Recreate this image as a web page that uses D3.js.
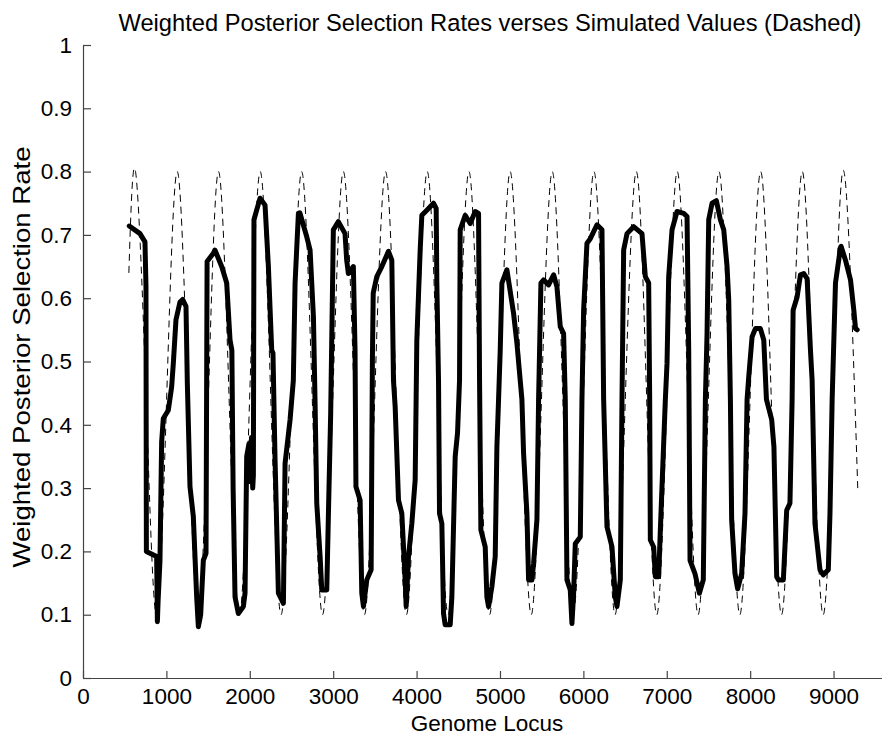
<!DOCTYPE html>
<html>
<head>
<meta charset="utf-8">
<script src="https://cdn.jsdelivr.net/npm/d3@7"></script>
<style>
  body { margin: 0; background: #fff; }
  text { font-family: "Liberation Sans", Arial, sans-serif; fill: #000; }
</style>
</head>
<body>
<div id="chart"></div>
<script>
var svgWidth = 882;
var svgHeight = 742;

var margin = { top: 45, left: 83 };
var height = 633;

// x ticks
var xTicks = [0, 1000, 2000, 3000, 4000, 5000, 6000, 7000, 8000, 9000];
var yTicks = [0, 0.1, 0.2, 0.3, 0.4, 0.5, 0.6, 0.7, 0.8, 0.9, 1];

// simulated values (dashed)
var simLocus = [550, 630, 755, 880, 1005, 1130, 1255, 1380, 1505, 1625, 1750, 1875, 2000,
  2125, 2250, 2375, 2500, 2622, 2747, 2872, 2997, 3122, 3250, 3375, 3500, 3628, 3753, 3878,
  4003, 4128, 4253, 4378, 4503, 4628, 4750, 4875, 5000, 5122, 5250, 5375, 5500, 5627, 5752,
  5877, 6002, 6127, 6255, 6380, 6505, 6635, 6757, 6880, 7003, 7126, 7251, 7376, 7501, 7626,
  7751, 7876, 8001, 8126, 8251, 8376, 8501, 8625, 8750, 8875, 9000, 9125, 9290];
var simRate = [0.64, 0.80, 0.45, 0.10, 0.45, 0.80, 0.45, 0.10, 0.45, 0.80, 0.45, 0.10, 0.45,
  0.80, 0.45, 0.10, 0.45, 0.80, 0.45, 0.10, 0.45, 0.80, 0.45, 0.10, 0.45, 0.80, 0.45, 0.10,
  0.45, 0.80, 0.45, 0.10, 0.45, 0.80, 0.45, 0.10, 0.45, 0.80, 0.45, 0.10, 0.45, 0.80, 0.45,
  0.10, 0.45, 0.80, 0.45, 0.10, 0.45, 0.80, 0.45, 0.10, 0.45, 0.80, 0.45, 0.10, 0.45, 0.80,
  0.45, 0.10, 0.45, 0.80, 0.45, 0.10, 0.45, 0.80, 0.45, 0.10, 0.45, 0.80, 0.30];

// weighted posterior selection rate (bold)
var postLocus = [555, 683, 743, 755, 760, 883, 887, 892, 900, 923, 943, 963, 1023, 1063, 1083,
  1115, 1163, 1195, 1235, 1251, 1283, 1323, 1363, 1383, 1411, 1443, 1475, 1488, 1563, 1583,
  1663, 1723, 1763, 1785, 1800, 1823, 1863, 1923, 1943, 1963, 1990, 2005, 2020, 2035, 2043,
  2050, 2123, 2183, 2223, 2263, 2278, 2303, 2343, 2403, 2423, 2483, 2522, 2543, 2583, 2600,
  2683, 2723, 2763, 2782, 2803, 2843, 2863, 2923, 2943, 2970, 3002, 3062, 3142, 3162, 3182,
  3242, 3262, 3273, 3323, 3343, 3363, 3403, 3455, 3470, 3480, 3523, 3583, 3663, 3703, 3723,
  3743, 3783, 3823, 3863, 3875, 3903, 3943, 3983, 4003, 4043, 4063, 4123, 4203, 4235, 4243,
  4263, 4275, 4303, 4323, 4343, 4403, 4423, 4463, 4491, 4515, 4523, 4583, 4643, 4703, 4743,
  4755, 4771, 4823, 4843, 4863, 4903, 4943, 4963, 4983, 5003, 5023, 5083, 5163, 5203, 5263,
  5283, 5323, 5343, 5383, 5403, 5443, 5463, 5491, 5523, 5583, 5643, 5683, 5723, 5763, 5783,
  5803, 5843, 5863, 5883, 5903, 5963, 5983, 6003, 6043, 6083, 6163, 6223, 6243, 6283, 6343,
  6383, 6403, 6443, 6463, 6483, 6523, 6603, 6703, 6743, 6783, 6795, 6803, 6843, 6863, 6903,
  6923, 6983, 7003, 7023, 7063, 7123, 7203, 7243, 7263, 7279, 7338, 7391, 7438, 7463, 7483,
  7503, 7543, 7595, 7643, 7683, 7723, 7743, 7763, 7778, 7818, 7850, 7898, 7938, 7963, 7983,
  8023, 8063, 8123, 8163, 8195, 8258, 8285, 8318, 8338, 8398, 8438, 8477, 8503, 8515, 8563,
  8603, 8643, 8683, 8723, 8743, 8777, 8837, 8877, 8937, 8957, 8983, 9023, 9083, 9090, 9143,
  9203, 9243, 9263, 9283];
var postRate = [0.714, 0.702, 0.689, 0.62, 0.20, 0.192, 0.15, 0.089, 0.12, 0.186, 0.373, 0.41,
  0.423, 0.46, 0.497, 0.566, 0.594, 0.598, 0.587, 0.466, 0.302, 0.255, 0.128, 0.081, 0.10,
  0.186, 0.197, 0.658, 0.671, 0.676, 0.65, 0.624, 0.534, 0.518, 0.30, 0.128, 0.102, 0.113,
  0.134, 0.35, 0.37, 0.31, 0.38, 0.30, 0.32, 0.724, 0.758, 0.747, 0.65, 0.518, 0.513, 0.344,
  0.134, 0.118, 0.339, 0.408, 0.47, 0.624, 0.734, 0.735, 0.697, 0.676, 0.571, 0.44, 0.276,
  0.192, 0.139, 0.139, 0.26, 0.418, 0.708, 0.721, 0.702, 0.660, 0.639, 0.65, 0.518, 0.302,
  0.281, 0.134, 0.113, 0.155, 0.171, 0.50, 0.608, 0.634, 0.65, 0.674, 0.66, 0.47, 0.429,
  0.281, 0.26, 0.155, 0.113, 0.192, 0.244, 0.313, 0.534, 0.676, 0.731, 0.739, 0.75, 0.742,
  0.624, 0.47, 0.26, 0.244, 0.102, 0.084, 0.084, 0.128, 0.35, 0.387, 0.47, 0.708, 0.731,
  0.718, 0.737, 0.734, 0.47, 0.234, 0.207, 0.128, 0.113, 0.144, 0.192, 0.365, 0.44, 0.518,
  0.624, 0.645, 0.576, 0.529, 0.44, 0.355, 0.26, 0.155, 0.155, 0.181, 0.25, 0.44, 0.624,
  0.629, 0.621, 0.637, 0.618, 0.555, 0.544, 0.44, 0.155, 0.139, 0.086, 0.134, 0.212, 0.223,
  0.44, 0.581, 0.687, 0.694, 0.716, 0.708, 0.44, 0.239, 0.207, 0.128, 0.113, 0.155, 0.44,
  0.676, 0.702, 0.713, 0.702, 0.634, 0.624, 0.44, 0.218, 0.207, 0.16, 0.16, 0.234, 0.44,
  0.497, 0.634, 0.708, 0.737, 0.734, 0.729, 0.518, 0.186, 0.165, 0.134, 0.155, 0.44, 0.544,
  0.724, 0.75, 0.754, 0.724, 0.708, 0.65, 0.597, 0.44, 0.25, 0.165, 0.141, 0.165, 0.26,
  0.44, 0.476, 0.539, 0.552, 0.552, 0.534, 0.44, 0.408, 0.365, 0.16, 0.155, 0.155, 0.265,
  0.276, 0.44, 0.581, 0.602, 0.637, 0.639, 0.631, 0.518, 0.47, 0.244, 0.171, 0.163, 0.171,
  0.26, 0.44, 0.624, 0.68, 0.682, 0.66, 0.629, 0.581, 0.552, 0.55];

var simData = simLocus.map(function(d, i) { return { x: d, y: simRate[i] }; });
var postData = postLocus.map(function(d, i) { return { x: d, y: postRate[i] }; });

var svg = d3.select("#chart")
  .append("svg")
  .attr("width", svgWidth)
  .attr("height", svgHeight);

var chartGroup = svg.append("g")
  .attr("transform", `translate(${margin.left}, ${margin.top})`);

var xLinearScale = d3.scaleLinear()
  .domain([0, 9600])
  .range([0, 800.6]);

var yLinearScale = d3.scaleLinear()
  .domain([0, 1])
  .range([height, 0]);

// matlab style: ticks point inward
var bottomAxis = d3.axisBottom(xLinearScale)
  .tickValues(xTicks)
  .tickSizeInner(-7)
  .tickSizeOuter(0)
  .tickPadding(10)
  .tickFormat(d3.format("d"));

var leftAxis = d3.axisLeft(yLinearScale)
  .tickValues(yTicks)
  .tickSizeInner(-8)
  .tickSizeOuter(0)
  .tickPadding(11)
  .tickFormat(function(d) { return d === 0 || d === 1 ? d : d3.format(".1f")(d); });

var xAxis = chartGroup.append("g")
  .attr("transform", `translate(0, ${height})`)
  .call(bottomAxis);

var yAxis = chartGroup.append("g")
  .call(leftAxis);

[xAxis, yAxis].forEach(function(ax) {
  ax.selectAll("path, line").attr("stroke", "#444").attr("stroke-width", 1.2);
  ax.selectAll("text")
    .style("font-size", "22.5px")
    .style("font-family", "'Liberation Sans', Arial, sans-serif")
    .attr("fill", "#000");
});

var line = d3.line()
  .x(d => xLinearScale(d.x))
  .y(d => yLinearScale(d.y));

chartGroup.append("path")
  .datum(simData)
  .attr("fill", "none")
  .attr("stroke", "#000")
  .attr("stroke-width", 1)
  .attr("stroke-dasharray", "7,5")
  .attr("d", line.curve(d3.curveNatural));

chartGroup.append("path")
  .datum(postData)
  .attr("fill", "none")
  .attr("stroke", "#000")
  .attr("stroke-width", 5)
  .attr("stroke-linejoin", "round")
  .attr("stroke-linecap", "round")
  .attr("d", d3.line()
    .x(d => xLinearScale(d.x))
    .y(d => yLinearScale(d.y)));

svg.append("text")
  .attr("x", 490)
  .attr("y", 31)
  .attr("text-anchor", "middle")
  .style("font-size", "23.7px")
  .text("Weighted Posterior Selection Rates verses Simulated Values (Dashed)");

svg.append("text")
  .attr("x", 487)
  .attr("y", 731)
  .attr("text-anchor", "middle")
  .style("font-size", "22.5px")
  .text("Genome Locus");

// the y label in the picture is stretched along its length
svg.append("text")
  .attr("transform", "translate(30, 357) rotate(-90) scale(1.2, 1)")
  .attr("text-anchor", "middle")
  .style("font-size", "23px")
  .text("Weighted Posterior Selection Rate");
</script>
</body>
</html>
